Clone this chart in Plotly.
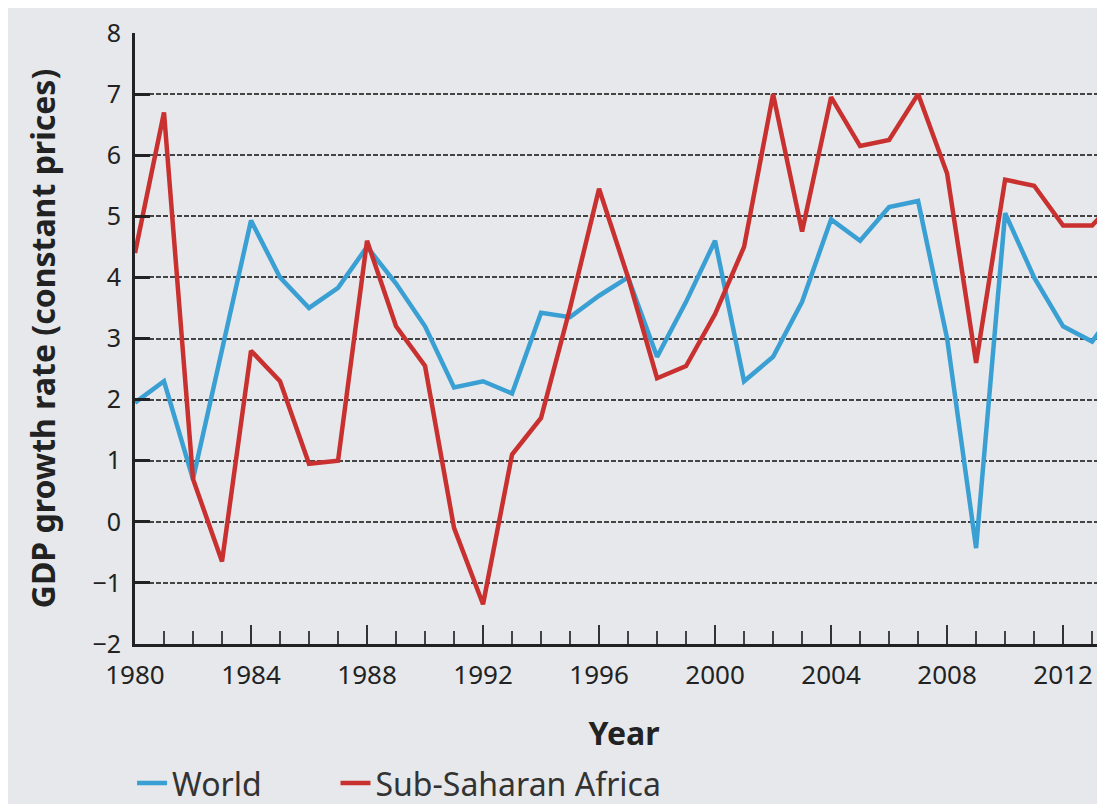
import plotly.graph_objects as go

years = list(range(1980, 2015))
world = [1.95, 2.3, 0.7, 2.8, 4.93, 4.0, 3.5, 3.83, 4.5, 3.9, 3.2, 2.2, 2.3, 2.1, 3.42,
         3.35, 3.7, 4.0, 2.7, 3.6, 4.6, 2.3, 2.7, 3.6, 4.95, 4.6, 5.15, 5.25, 3.0, -0.43,
         5.05, 4.0, 3.2, 2.95, 3.6]
ssa = [4.4, 6.7, 0.7, -0.65, 2.8, 2.3, 0.95, 1.0, 4.6, 3.2, 2.55, -0.1, -1.35, 1.1, 1.7,
       3.5, 5.45, 4.0, 2.35, 2.55, 3.4, 4.5, 7.0, 4.75, 6.95, 6.15, 6.25, 7.0, 5.7, 2.6,
       5.6, 5.5, 4.85, 4.85, 5.35]
x_ticks = list(range(1980, 2013, 4))
y_ticks = list(range(-2, 9))

BG = "#e6e8eb"
FONT = "Noto Sans"

fig = go.Figure()
fig.add_trace(go.Scatter(x=years, y=world, mode="lines", name="World",
                         line=dict(color="#3a9fd3", width=4.5), cliponaxis=True,
                         legend="legend"))
fig.add_trace(go.Scatter(x=years, y=ssa, mode="lines", name="Sub-Saharan Africa",
                         line=dict(color="#c8312f", width=4.5), cliponaxis=True,
                         legend="legend2"))

leg_common = dict(orientation="h", xanchor="left", y=-0.228, yanchor="middle",
                  font=dict(size=32, color="#333333"), bgcolor="rgba(0,0,0,0)")

fig.update_layout(
    width=1105, height=804,
    paper_bgcolor=BG, plot_bgcolor=BG,
    margin=dict(l=127, r=0, t=25, b=168),
    font=dict(family=FONT, color="#222222", size=25),
    showlegend=True,
    legend=dict(x=-0.003, **leg_common),
    legend2=dict(x=0.205, **leg_common),
    xaxis=dict(
        range=[1980, 2013.72], tickmode="array", tickvals=x_ticks,
        ticktext=[str(v) for v in x_ticks],
        showgrid=False, zeroline=False,
        showline=True, linecolor="#222222", linewidth=3,
        ticks="inside", ticklen=19, tickwidth=2, tickcolor="#333333",
        ticklabelstandoff=6,
        minor=dict(dtick=1, tick0=1980, ticks="inside", ticklen=13, tickwidth=2,
                   tickcolor="#444444", showgrid=False),
        tickfont=dict(size=26, color="#222222"),
        title=dict(text="<b>Year</b>", font=dict(size=32, color="#222222"), standoff=32),
    ),
    yaxis=dict(
        range=[-2, 8], tickmode="array", tickvals=y_ticks,
        ticktext=[str(v) if v >= 0 else "\u2212" + str(-v) for v in y_ticks],
        showgrid=True, gridcolor="#444444", gridwidth=1.5, griddash="5px,2px",
        zeroline=False,
        showline=True, linecolor="#222222", linewidth=3,
        ticks="inside", ticklen=15, tickwidth=3, tickcolor="#222222",
        ticklabelstandoff=6,
        tickfont=dict(size=25, color="#222222"),
        title=dict(text="<b>GDP growth rate (constant prices)</b>",
                   font=dict(size=32, color="#222222"), standoff=28),
    ),
)

fig.write_html("out.html")
